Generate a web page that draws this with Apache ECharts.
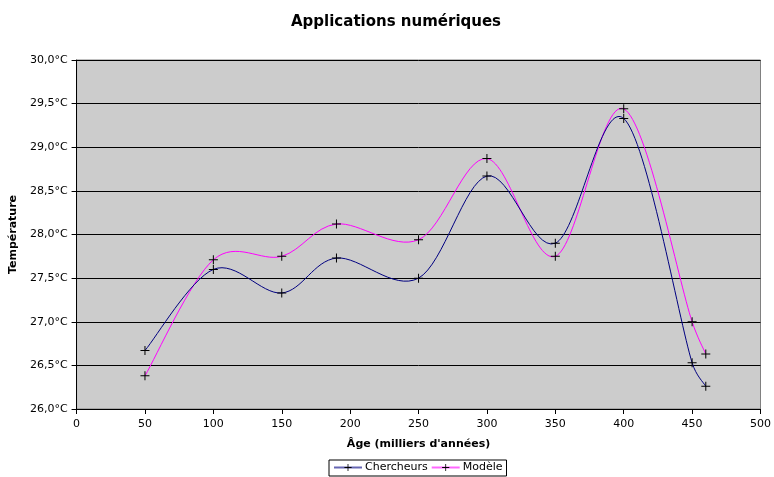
<!DOCTYPE html>
<html>
<head>
<meta charset="utf-8">
<script src="https://cdn.jsdelivr.net/npm/echarts@6/dist/echarts.min.js"></script>
<style>
  html, body { margin: 0; padding: 0; background: #fff; }
  #chart { width: 774px; height: 477px; }
</style>
</head>
<body>
<div id="chart"></div>
<script>
// Ages (thousands of years) and temperatures for each series
const ages = [50, 100, 150, 190, 250, 300, 350, 400, 450, 460];
const chercheurs = [26.67, 27.60, 27.33, 27.73, 27.50, 28.67, 27.90, 29.33, 26.53, 26.26];
const modele = [26.38, 27.71, 27.75, 28.12, 27.94, 28.87, 27.75, 29.44, 27.00, 26.63];
const seriesNames = ['Chercheurs', 'Modèle'];
const seriesColors = ['#000080', '#ff00ff'];

const FONT = '"DejaVu Sans", Verdana, sans-serif';
// small black cross used as the point marker
const PLUS = 'path://M4,0H5V4H9V5H5V9H4V5H0V4H4Z';

function pairs(xs, ys) { return xs.map((x, i) => [x, ys[i]]); }
function fmtTemp(v) { return v.toFixed(1).replace('.', ',') + '°C'; }

// Scale a tangent offset so it never exceeds half of the segment chord.
function clampOffset(off, chord) {
  const len = Math.hypot(off[0], off[1]);
  const max = chord * 0.5;
  if (len <= max || len === 0) return off;
  return [off[0] * max / len, off[1] * max / len];
}

// Cardinal (Catmull-Rom style) curve through the points, computed in pixel space
// from the axis coordinates of the data, one bezier segment per item.
function smoothCurve(xs, ys, color) {
  return {
    type: 'custom',
    silent: true,
    z: 1,
    data: xs.map((x, i) => [x, ys[i]]),
    encode: { x: 0, y: 1 },
    renderItem: function (params, api) {
      const i = params.dataIndex;
      const n = xs.length;
      if (i >= n - 1) return null;
      const pt = k => {
        const j = Math.max(0, Math.min(n - 1, k));
        return api.coord([xs[j], ys[j]]);
      };
      const p0 = pt(i - 1), p1 = pt(i), p2 = pt(i + 1), p3 = pt(i + 2);
      const t = 1 / 6;
      const chord = Math.hypot(p2[0] - p1[0], p2[1] - p1[1]);
      const o1 = clampOffset([(p2[0] - p0[0]) * t, (p2[1] - p0[1]) * t], chord);
      const o2 = clampOffset([(p3[0] - p1[0]) * t, (p3[1] - p1[1]) * t], chord);
      return {
        type: 'bezierCurve',
        shape: {
          x1: p1[0], y1: p1[1], x2: p2[0], y2: p2[1],
          cpx1: p1[0] + o1[0], cpy1: p1[1] + o1[1],
          cpx2: p2[0] - o2[0], cpy2: p2[1] - o2[1]
        },
        style: { stroke: color, lineWidth: 1, fill: null }
      };
    }
  };
}

function markerSeries(name, xs, ys, color) {
  return {
    name: name,
    type: 'line',
    data: pairs(xs, ys),
    symbol: PLUS,
    symbolSize: 9,
    showSymbol: true,
    lineStyle: { color: color, width: 0, opacity: 0 },
    itemStyle: { color: '#000' },
    z: 3
  };
}

const chart = echarts.init(document.getElementById('chart'), null, { renderer: 'canvas' });

chart.setOption({
  animation: false,
  backgroundColor: '#ffffff',
  title: {
    text: 'Applications numériques',
    left: 286,
    top: 10,
    textStyle: { fontFamily: FONT, fontSize: 15, fontWeight: 'bold', color: '#000' }
  },
  legend: {
    data: seriesNames.map((n, i) => ({
      name: n,
      lineStyle: { color: seriesColors[i], width: 2, opacity: 0.6 },
      itemStyle: { color: '#000' }
    })),
    top: 460,
    left: 329,
    itemWidth: 28,
    itemHeight: 9,
    itemGap: 3,
    padding: [2, 4, 3, 4],
    borderColor: '#000',
    borderWidth: 1,
    textStyle: { fontFamily: FONT, fontSize: 11, color: '#000', padding: [0, 0, 0, -2] }
  },
  grid: {
    left: 73, right: 12, top: 60, bottom: 68,
    show: true,
    backgroundColor: '#cccccc',
    borderColor: '#808080',
    borderWidth: 1
  },
  xAxis: {
    type: 'value',
    min: 0, max: 500, interval: 50,
    name: "Âge (milliers d'années)",
    nameLocation: 'middle',
    nameGap: 30,
    nameTextStyle: { fontFamily: FONT, fontSize: 11, fontWeight: 'bold', color: '#000' },
    axisLine: { show: true, lineStyle: { color: '#000', width: 1 } },
    axisTick: { show: true, length: 5, lineStyle: { color: '#000' } },
    axisLabel: { fontFamily: FONT, fontSize: 11, color: '#000', margin: 10 },
    splitLine: { show: false }
  },
  yAxis: {
    type: 'value',
    min: 26, max: 30, interval: 0.5,
    name: 'Température',
    nameLocation: 'middle',
    nameGap: 44,
    nameRotate: 90,
    nameTextStyle: { fontFamily: FONT, fontSize: 11, fontWeight: 'bold', color: '#000' },
    axisLine: { show: true, lineStyle: { color: '#000', width: 1 } },
    axisTick: { show: true, length: 5, lineStyle: { color: '#000' } },
    axisLabel: { fontFamily: FONT, fontSize: 11, color: '#000', margin: 9, formatter: fmtTemp },
    splitLine: { show: true, lineStyle: { color: '#000', width: 1 } }
  },
  series: [
    smoothCurve(ages, modele, seriesColors[1]),
    smoothCurve(ages, chercheurs, seriesColors[0]),
    markerSeries(seriesNames[0], ages, chercheurs, seriesColors[0]),
    markerSeries(seriesNames[1], ages, modele, seriesColors[1])
  ]
});
</script>
</body>
</html>
